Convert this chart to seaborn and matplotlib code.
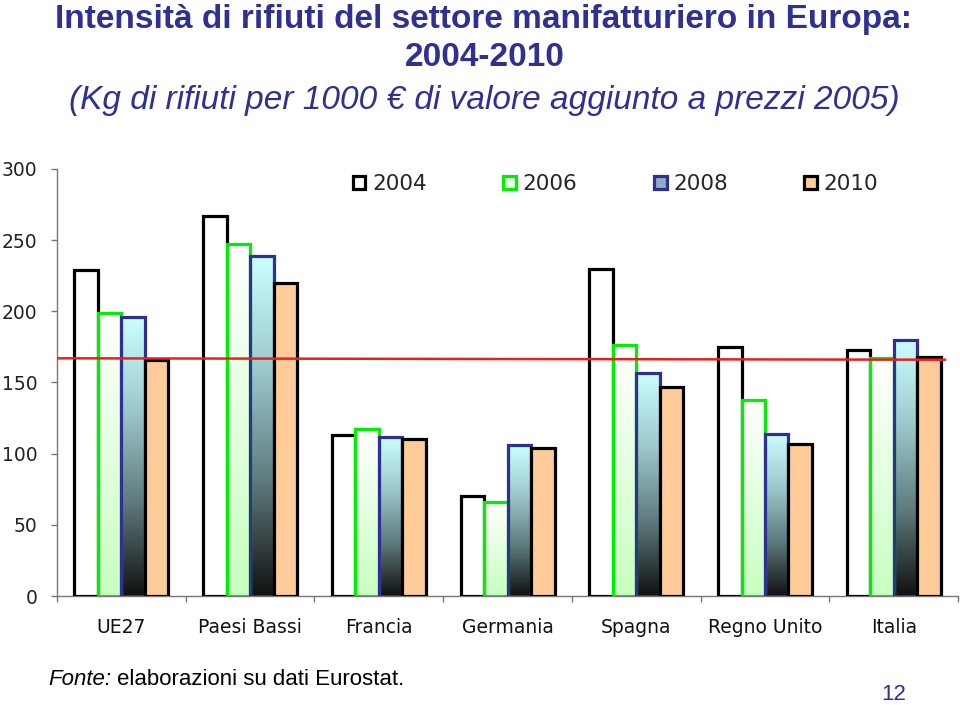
import numpy as np
import pandas as pd
import matplotlib
matplotlib.use("Agg")
import matplotlib.pyplot as plt
from matplotlib.patches import Patch
from matplotlib.colors import LinearSegmentedColormap
import seaborn as sns

countries = ["UE27", "Paesi Bassi", "Francia", "Germania", "Spagna", "Regno Unito", "Italia"]
years = ["2004", "2006", "2008", "2010"]
v2004 = [229, 267, 113, 70, 230, 175, 173]
v2006 = [199, 247, 117, 66, 176, 138, 167]
v2008 = [196, 239, 112, 106, 157, 114, 180]
v2010 = [166, 220, 110, 104, 147, 107, 168]
ref_level = 167
yticks = [0, 50, 100, 150, 200, 250, 300]

df = pd.DataFrame({
    "paese": countries * 4,
    "anno": sum([[y] * len(countries) for y in years], []),
    "valore": v2004 + v2006 + v2008 + v2010,
})

sns.set_theme(style="white")
plt.rcParams["font.family"] = ["DejaVu Sans"]

TITLE_C = "#2E3192"
edge_cols = ["black", "#00EE00", "#2E3192", "black"]
face_cols = ["white", "#E6FFE0", "#7FA6B0", "#FFCC99"]

fig = plt.figure(figsize=(9.6, 7.05), dpi=100)
ax = fig.add_axes([0.0594, 0.1546, 0.9386, 0.6057])

sns.barplot(data=df, x="paese", y="valore", hue="anno", order=countries,
            hue_order=years, palette=face_cols, width=0.73, ax=ax,
            legend=False, saturation=1, errorbar=None)

grad = np.linspace(0, 1, 256)[:, None]
cmap_green = LinearSegmentedColormap.from_list("g", ["#FFFFFF", "#C8FFC0"])
cmap_blue = LinearSegmentedColormap.from_list("b", ["#CCFFFF", "#9CC8CC", "#5E7A7C", "#111111"])

for i, cont in enumerate(ax.containers):
    for bar in cont:
        bar.set_edgecolor(edge_cols[i])
        bar.set_linewidth(2.3)
        bar.set_zorder(3)
        if i in (1, 2):
            x0 = bar.get_x(); w = bar.get_width(); h = bar.get_height()
            cm = cmap_green if i == 1 else cmap_blue
            im = ax.imshow(grad, cmap=cm, aspect="auto",
                           extent=[x0, x0 + w, 0, h], origin="upper", zorder=2,
                           interpolation="bilinear")
            im.set_clip_path(bar)
            bar.set_facecolor("none")

ax.set_xlim(-0.5, 6.5)
ax.set_ylim(0, 300)
ax.plot([-0.5, 6.4], [ref_level, ref_level - 1], color="#E8201C", lw=1.8, zorder=4)

ax.set_yticks(yticks)
ax.set_yticklabels([str(t) for t in yticks], fontsize=13.5, color="#222222")
ax.set_xticks(range(len(countries)))
ax.set_xticklabels(countries, fontsize=13.5, color="#111111")
ax.set_xticks(np.arange(-0.5, 7, 1), minor=True)
ax.tick_params(axis="x", which="major", length=0, pad=16)
ax.tick_params(axis="x", which="minor", length=4, width=1, color="#777777", direction="out", bottom=True)
ax.tick_params(axis="y", length=4, width=1, color="#777777", direction="out", left=True, pad=10)
ax.set_xlabel("")
ax.set_ylabel("")
for s in ["top", "right"]:
    ax.spines[s].set_visible(False)
for s in ["left", "bottom"]:
    ax.spines[s].set_color("#777777")
    ax.spines[s].set_linewidth(1)

handles = [Patch(facecolor="white", edgecolor="black", linewidth=2.3),
           Patch(facecolor="#E6FFE0", edgecolor="#00EE00", linewidth=2.3),
           Patch(facecolor="#8FAFC0", edgecolor="#2E3192", linewidth=2.3),
           Patch(facecolor="#FFCC99", edgecolor="black", linewidth=2.3)]
fig.legend(handles, years, loc="center", bbox_to_anchor=(0.641, 0.739), ncol=4,
           frameon=False, fontsize=15.5, handlelength=0.6, handleheight=0.6,
           handletextpad=0.3, columnspacing=3.55)

fig.text(0.057, 0.972, "Intensità di rifiuti del settore manifatturiero in Europa:",
         fontsize=24, fontweight="bold", color=TITLE_C, family="Liberation Sans",
         ha="left", va="center")
fig.text(0.505, 0.918, "2004-2010", fontsize=24, fontweight="bold", color=TITLE_C,
         family="Liberation Sans", ha="center", va="center")
fig.text(0.505, 0.857, "(Kg di rifiuti per 1000 € di valore aggiunto a prezzi 2005)",
         fontsize=24, style="italic", color=TITLE_C, family="Liberation Sans",
         ha="center", va="center")

fig.text(0.05, 0.036, "Fonte:", fontsize=16, style="italic", color="black",
         family="Liberation Sans", ha="left", va="center")
fig.text(0.122, 0.036, "elaborazioni su dati Eurostat.", fontsize=16, color="black",
         family="Liberation Sans", ha="left", va="center")
fig.text(0.931, 0.015, "12", fontsize=16, color=TITLE_C, family="Liberation Sans",
         ha="center", va="center")

fig.savefig("out.png", dpi=100)
